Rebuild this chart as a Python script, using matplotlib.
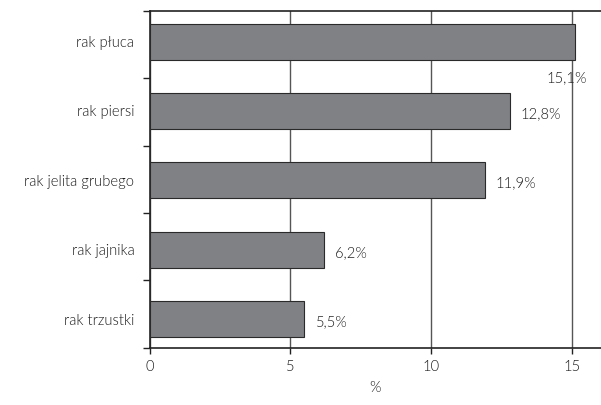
import numpy as np
import matplotlib.pyplot as plt
from matplotlib.ticker import FixedLocator

categories = ['rak płuca', 'rak piersi', 'rak jelita grubego', 'rak jajnika', 'rak trzustki']
values = [15.1, 12.8, 11.9, 6.2, 5.5]
labels = ['15,1%', '12,8%', '11,9%', '6,2%', '5,5%']

plt.rcParams['font.family'] = ['Lato', 'DejaVu Sans']
plt.rcParams['font.weight'] = 300
plt.rcParams['axes.labelweight'] = 300
fs = 10.6
tc = '#1a1a1a'

fig = plt.figure(figsize=(6.01, 4.05), dpi=100)
ax = fig.add_axes([0.249, 0.1415, 0.751, 0.8313])

y = np.arange(len(categories))
ax.barh(y, values, height=0.52, color='#808184', edgecolor='#2a2a2a', linewidth=0.8, zorder=3)

lo, hi = -0.44, 4.41
ax.set_xlim(0, 16.04)
ax.set_ylim(hi, lo)
ax.set_xticks([0, 5, 10, 15])
ax.set_xticklabels(['0', '5', '10', '15'])
ax.set_yticks(y)
ax.set_yticklabels(categories)
ax.yaxis.set_minor_locator(FixedLocator(np.linspace(lo, hi, 6)))
ax.tick_params(axis='y', which='major', length=0, pad=11, labelsize=fs, labelcolor=tc)
ax.tick_params(axis='y', which='minor', length=5, width=1, color='#222222')
ax.tick_params(axis='x', length=4, width=1, color='#222222', labelsize=fs, labelcolor=tc, pad=5)
ax.set_xlabel('%', fontsize=fs, color=tc, fontweight=300, labelpad=5)

ax.grid(axis='x', color='#555555', linewidth=1, zorder=0)
for s in ['left', 'bottom', 'top']:
    ax.spines[s].set_color('#222222')
    ax.spines[s].set_linewidth(1.2)
ax.spines['right'].set_visible(False)

# value labels to the right of each bar; the longest one drops below its bar
for i, (v, t) in enumerate(zip(values, labels)):
    if i == 0:
        off = (-20, -26)
    else:
        off = (8, -2)
    ax.annotate(t, (v, i), xytext=off, textcoords='offset points',
                va='center', ha='left', fontsize=fs, color=tc)

fig.savefig('out.png', dpi=100)
